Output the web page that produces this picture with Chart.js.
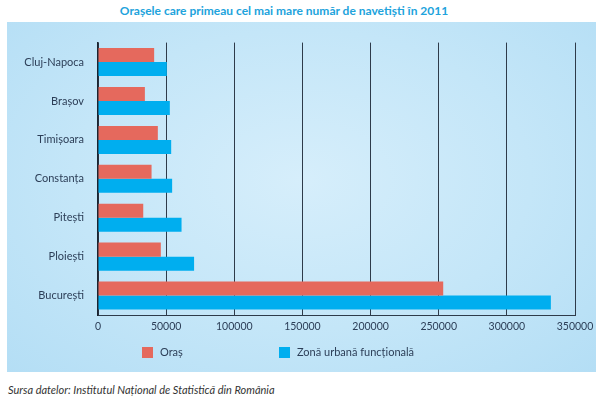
<!DOCTYPE html>
<html>
<head>
<meta charset="utf-8">
<script src="https://cdn.jsdelivr.net/npm/chart.js@4"></script>
<style>
  html, body { margin: 0; padding: 0; background: #fff; }
  body { width: 605px; height: 399px; position: relative; overflow: hidden; font-family: Lato, "Open Sans", sans-serif; }
  #title {
    position: absolute; left: 0; top: 3px; width: 568px; text-align: center;
    color: #21a3dc; font-weight: bold; font-size: 12px;
  }
  #panel {
    position: absolute; left: 7px; top: 22px; width: 589px; height: 350px;
    background: radial-gradient(ellipse at 50% 45%, #d6eefb 0%, #c4e6f8 55%, #b4def5 100%);
  }
  #source {
    position: absolute; left: 8px; top: 383px; font-size: 11px; font-style: italic; color: #333;
  }
</style>
</head>
<body>
<div id="title">Orașele care primeau cel mai mare număr de navetiști în 2011</div>
<div id="panel"><canvas id="chart" width="589" height="350"></canvas></div>
<div id="source">Sursa datelor: Institutul Național de Statistică din România</div>
<script>
const cities = ["Cluj-Napoca", "Brașov", "Timișoara", "Constanța", "Pitești", "Ploiești", "București"];
const orasValues = [41200, 34400, 43900, 39300, 33200, 46100, 253300];
const zonaValues = [50500, 52700, 53700, 54400, 61300, 70500, 332300];
const seriesNames = ["Oraș", "Zonă urbană funcțională"];

const ORANGE = "#e5695d";
const BLUE = "#00aeef";
const TEXT = "#2c3e57";
const LINE = "#2e3b4a";

// legend drawn by hand so the two items sit where the original has them
const manualLegend = {
  id: "manualLegend",
  afterDraw(chart) {
    const ctx = chart.ctx;
    const items = [
      { x: 135, color: ORANGE, text: seriesNames[0] },
      { x: 272, color: BLUE, text: seriesNames[1] },
    ];
    ctx.save();
    ctx.font = "11px Lato, 'Open Sans', sans-serif";
    ctx.textBaseline = "middle";
    items.forEach((it) => {
      ctx.fillStyle = it.color;
      ctx.fillRect(it.x, 325, 11, 11);
      ctx.fillStyle = TEXT;
      ctx.fillText(it.text, it.x + 18, 330.5);
    });
    ctx.restore();
  },
};

new Chart(document.getElementById("chart"), {
  type: "bar",
  data: {
    labels: cities,
    datasets: [
      { label: seriesNames[0], data: orasValues, backgroundColor: ORANGE },
      { label: seriesNames[1], data: zonaValues, backgroundColor: BLUE },
    ],
  },
  options: {
    indexAxis: "y",
    responsive: false,
    animation: false,
    categoryPercentage: 0.72,
    barPercentage: 1,
    layout: { padding: { top: 18, right: 21, left: 0, bottom: 0 } },
    plugins: {
      legend: { display: false },
      tooltip: { enabled: false },
    },
    scales: {
      x: {
        min: 0,
        max: 350000,
        ticks: {
          stepSize: 50000,
          color: TEXT,
          padding: 5,
          font: { family: "Lato, 'Open Sans', sans-serif", size: 10.5 },
          callback: (v) => String(v),
        },
        grid: { color: LINE, lineWidth: 1, drawTicks: false },
        border: { display: true, color: LINE, width: 1 },
        afterFit: (scale) => {
          scale.height = 57;
          scale.paddingLeft = 0;
          scale.paddingRight = 0;
        },
      },
      y: {
        ticks: {
          color: TEXT,
          padding: 14,
          font: { family: "Lato, 'Open Sans', sans-serif", size: 11 },
        },
        grid: { display: false, drawTicks: false },
        border: { display: true, color: "#1c2430", width: 1.5 },
        afterFit: (scale) => { scale.width = 91; },
      },
    },
  },
  plugins: [manualLegend],
});
</script>
</body>
</html>
